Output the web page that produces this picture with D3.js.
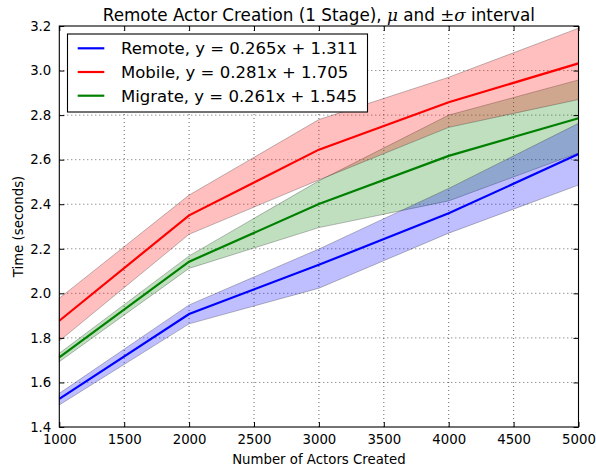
<!DOCTYPE html>
<html>
<head>
<meta charset="utf-8">
<script src="https://cdn.jsdelivr.net/npm/d3@7"></script>
<style>
  body { margin: 0; background: #fff; }
  text { font-family: "DejaVu Sans", sans-serif; fill: #000; }
</style>
</head>
<body>
<script>
var svgWidth = 596;
var svgHeight = 470;

var margin = { top: 26, right: 17.5, bottom: 43, left: 59.3 };
var width = svgWidth - margin.left - margin.right;
var height = svgHeight - margin.top - margin.bottom;

// data
var actors = [1000, 2000, 3000, 4000, 5000];

var remoteMean = [1.526, 1.907, 2.128, 2.359, 2.625];
var remoteLow  = [1.499, 1.863, 2.023, 2.270, 2.486];
var remoteHigh = [1.551, 1.948, 2.199, 2.471, 2.763];

var mobileMean = [1.877, 2.350, 2.645, 2.858, 3.032];
var mobileLow  = [1.786, 2.265, 2.509, 2.745, 2.870];
var mobileHigh = [1.978, 2.441, 2.780, 2.970, 3.190];

var migrateMean = [1.713, 2.142, 2.401, 2.617, 2.786];
var migrateLow  = [1.693, 2.112, 2.295, 2.415, 2.630];
var migrateHigh = [1.731, 2.168, 2.505, 2.800, 2.958];

var seriesNames = ["Remote, y = 0.265x + 1.311", "Mobile, y = 0.281x + 1.705", "Migrate, y = 0.261x + 1.545"];
var xTicks = [1000, 1500, 2000, 2500, 3000, 3500, 4000, 4500, 5000];
var yTicks = [1.4, 1.6, 1.8, 2.0, 2.2, 2.4, 2.6, 2.8, 3.0, 3.2];

var series = [
  { name: seriesNames[0], color: "#0000ff", mean: remoteMean, low: remoteLow, high: remoteHigh },
  { name: seriesNames[1], color: "#ff0000", mean: mobileMean, low: mobileLow, high: mobileHigh },
  { name: seriesNames[2], color: "#008000", mean: migrateMean, low: migrateLow, high: migrateHigh }
];

var svg = d3.select("body")
  .append("svg")
  .attr("width", svgWidth)
  .attr("height", svgHeight);

svg.append("rect")
  .attr("width", svgWidth)
  .attr("height", svgHeight)
  .attr("fill", "#fff");

var chartGroup = svg.append("g")
  .attr("transform", `translate(${margin.left}, ${margin.top})`);

var xScale = d3.scaleLinear().domain([1000, 5000]).range([0, width]);
var yScale = d3.scaleLinear().domain([1.4, 3.2]).range([height, 0]);

// grid
chartGroup.append("g")
  .selectAll("line")
  .data(xTicks.slice(1, -1))
  .enter()
  .append("line")
  .attr("x1", d => xScale(d))
  .attr("x2", d => xScale(d))
  .attr("y1", 0)
  .attr("y2", height)
  .attr("stroke", "#000")
  .attr("stroke-width", 0.6)
  .attr("stroke-dasharray", "1,3");

chartGroup.append("g")
  .selectAll("line")
  .data(yTicks.slice(1, -1))
  .enter()
  .append("line")
  .attr("x1", 0)
  .attr("x2", width)
  .attr("y1", d => yScale(d))
  .attr("y2", d => yScale(d))
  .attr("stroke", "#000")
  .attr("stroke-width", 0.6)
  .attr("stroke-dasharray", "1,3");

// bands: migrate first, then remote and mobile on top
var area = d3.area()
  .x(d => xScale(d.x))
  .y0(d => yScale(d.lo))
  .y1(d => yScale(d.hi));

[series[2], series[0], series[1]].forEach(function(s) {
  var pts = actors.map((x, i) => ({ x: x, lo: s.low[i], hi: s.high[i] }));
  chartGroup.append("path")
    .datum(pts)
    .attr("d", area)
    .attr("fill", s.color)
    .attr("fill-opacity", 0.25)
    .attr("stroke", "#000")
    .attr("stroke-opacity", 0.25)
    .attr("stroke-width", 1);
});

var line = d3.line()
  .x(d => xScale(d.x))
  .y(d => yScale(d.y));

series.forEach(function(s) {
  var pts = actors.map((x, i) => ({ x: x, y: s.mean[i] }));
  chartGroup.append("path")
    .datum(pts)
    .attr("d", line)
    .attr("fill", "none")
    .attr("stroke", s.color)
    .attr("stroke-width", 2.2);
});

// axes, ticks inside on all four sides
var tickLen = 5;
var bottomAxis = d3.axisBottom(xScale).tickValues(xTicks).tickSizeInner(-tickLen).tickSizeOuter(0).tickPadding(8).tickFormat(d3.format("d"));
var topAxis = d3.axisTop(xScale).tickValues(xTicks).tickSizeInner(-tickLen).tickSizeOuter(0).tickFormat("");
var leftAxis = d3.axisLeft(yScale).tickValues(yTicks).tickSizeInner(-tickLen).tickSizeOuter(0).tickPadding(8).tickFormat(d3.format(".1f"));
var rightAxis = d3.axisRight(yScale).tickValues(yTicks).tickSizeInner(-tickLen).tickSizeOuter(0).tickFormat("");

function styleAxis(g) {
  g.select(".domain").remove();
  g.selectAll(".tick line").attr("stroke", "#000").attr("stroke-width", 1);
  g.selectAll(".tick text")
    .style("font-family", "DejaVu Sans, sans-serif")
    .style("font-size", "13.3px")
    .attr("fill", "#000");
}

chartGroup.append("g").attr("transform", `translate(0, ${height})`).call(bottomAxis).call(styleAxis);
chartGroup.append("g").call(topAxis).call(styleAxis);
chartGroup.append("g").call(leftAxis).call(styleAxis);
chartGroup.append("g").attr("transform", `translate(${width}, 0)`).call(rightAxis).call(styleAxis);

chartGroup.append("rect")
  .attr("width", width)
  .attr("height", height)
  .attr("fill", "none")
  .attr("stroke", "#000")
  .attr("stroke-width", 1.1);

// legend
var legend = chartGroup.append("g")
  .attr("transform", "translate(8.2, 8)");

legend.append("rect")
  .attr("width", 300)
  .attr("height", 78)
  .attr("fill", "#fff")
  .attr("stroke", "#000")
  .attr("stroke-width", 1.1);

var rows = legend.selectAll(".row")
  .data(series)
  .enter()
  .append("g")
  .attr("transform", (d, i) => `translate(0, ${14.3 + i * 23.7})`);

rows.append("line")
  .attr("x1", 10.2)
  .attr("x2", 36.8)
  .attr("stroke", d => d.color)
  .attr("stroke-width", 2.2);

rows.append("text")
  .attr("x", 53.5)
  .attr("y", 6)
  .style("font-size", "16.5px")
  .text(d => d.name);

// title with math symbols
var title = svg.append("text")
  .attr("x", margin.left + width / 2)
  .attr("y", 20.7)
  .attr("text-anchor", "middle")
  .style("font-size", "16.8px");
title.append("tspan").text("Remote Actor Creation (1 Stage), ");
title.append("tspan").style("font-family", "DejaVu Serif, serif").style("font-style", "italic").text("\u03bc");
title.append("tspan").text(" and ");
title.append("tspan").style("font-family", "DejaVu Serif, serif").text("\u00b1");
title.append("tspan").style("font-family", "DejaVu Serif, serif").style("font-style", "italic").text("\u03c3");
title.append("tspan").text(" interval");

// axis labels
svg.append("text")
  .attr("x", margin.left + width / 2)
  .attr("y", 464)
  .attr("text-anchor", "middle")
  .style("font-size", "13.3px")
  .text("Number of Actors Created");

svg.append("text")
  .attr("transform", `translate(23, ${margin.top + height / 2}) rotate(-90)`)
  .attr("text-anchor", "middle")
  .style("font-size", "13.3px")
  .text("Time (seconds)");
</script>
</body>
</html>
